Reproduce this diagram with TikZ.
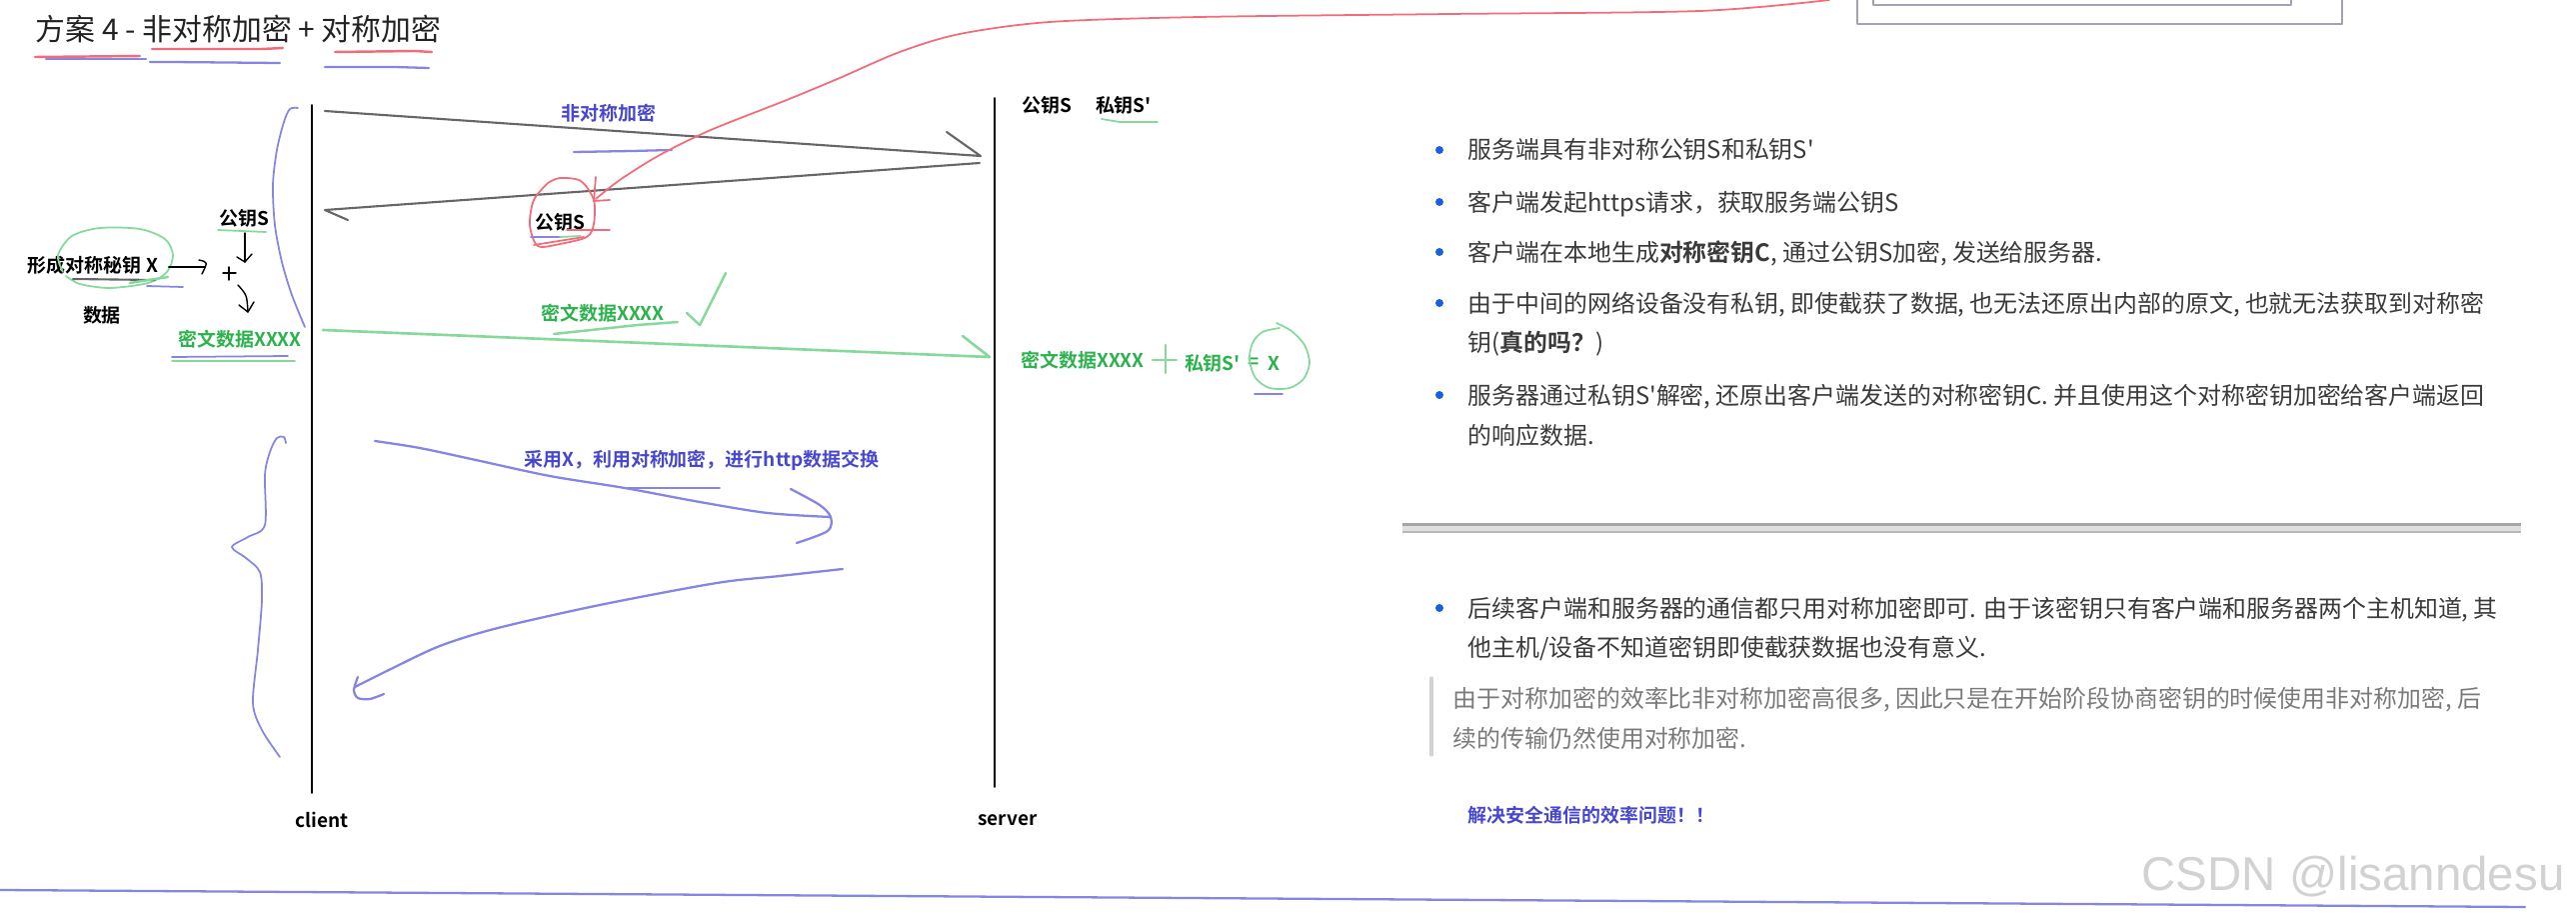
\documentclass[tikz,border=0pt]{standalone}
\usepackage{fontspec}
\setmainfont{Noto Sans CJK SC}[BoldFont={Noto Sans CJK SC Bold}, Ligatures=TeXOff]
\newfontfamily\markfont{Liberation Sans}
\definecolor{titlegray}{HTML}{222222}
\definecolor{bodygray}{HTML}{3A3A3A}
\definecolor{quotegray}{HTML}{7A7A7A}
\definecolor{pengray}{HTML}{666666}
\definecolor{penblue}{HTML}{8585E4}
\definecolor{pengreen}{HTML}{86D99A}
\definecolor{penred}{HTML}{F26B78}
\definecolor{labelblue}{HTML}{4646D0}
\definecolor{labelgreen}{HTML}{2BB24C}
\definecolor{dotblue}{HTML}{1A5FE0}
\definecolor{framegray}{HTML}{A2A2B2}
\begin{document}
\begin{tikzpicture}[x=0.01cm, y=-0.01cm, line cap=round, line join=round,
    lbl/.style={inner sep=0, font=\bfseries\fontsize{5.4}{6.5}\selectfont},
    greenlbl/.style={lbl, text=labelgreen},
    bluelbl/.style={lbl, text=labelblue},
    bodytext/.style={anchor=base west, inner sep=0, text=bodygray, font=\fontsize{6.8}{8}\selectfont},
    quotetext/.style={bodytext, text=quotegray},
    bluepen/.style={draw=penblue, line width=0.65pt},
    greenpen/.style={draw=pengreen, line width=0.7pt},
    redpen/.style={draw=penred, line width=0.5pt},
    graypen/.style={draw=pengray, line width=0.6pt},
    blackpen/.style={draw=black, line width=0.4pt}]
    \useasboundingbox (0,0) rectangle (2577,918);

    % Tiêu đề
    \node[anchor=base west, inner sep=0, text=titlegray, font=\fontsize{8.5}{10}\selectfont] (title) at (35,41) {方案 4 - 非对称加密 + 对称加密};
    \draw[redpen, line width=0.7pt] (35,57) -- (140,56);
    \draw[bluepen] (46,59) -- (146,59);
    \draw[redpen, line width=0.7pt] (152,49) -- (262,49) -- (283,48);
    \draw[bluepen] (150,62) -- (172,62) -- (280,63);
    \draw[redpen, line width=0.7pt] (335,52) -- (415,51) -- (432,52);
    \draw[bluepen] (325,67) -- (395,67) -- (429,68);

    % Hai đường đời client / server
    \coordinate (clienttop) at (312,105);
    \coordinate (clientbot) at (312,793);
    \coordinate (servertop) at (995,98);
    \coordinate (serverbot) at (995,787);
    \draw[line width=0.55pt] (clienttop) -- (clientbot);
    \draw[line width=0.55pt] (servertop) -- (serverbot);
    \node[lbl] (client) at (322,820) {client};
    \node[lbl] (server) at (1008,820) {server};

    % Phía client: tạo khóa X
    \node[lbl] (keyX) at (93,265) {形成对称秘钥 X};
    \node[lbl] (data) at (102,315) {数据};
    \node[lbl] (pubL) at (244,218) {公钥S};
    \node[greenlbl] (cipherL) at (240,339) {密文数据XXXX};
    \draw[greenpen, line width=0.5pt] plot[smooth] coordinates {(63,272) (58,255) (72,236) (100,228) (140,229) (165,239) (173,255) (167,272) (148,283) (110,288) (80,284) (66,276)};
    \draw[draw=pengray, line width=0.6pt] (73,279) -- (155,280);
    \draw[greenpen] (130,283) -- (168,277);
    \draw[bluepen, line width=0.5pt] (147,286) -- (183,287);
    \draw[greenpen, line width=0.5pt] (218,230) -- (266,232);
    \draw[bluepen, line width=0.5pt] (172,357) -- (288,356);
    \draw[greenpen, line width=0.5pt] (172,361) -- (295,361);
    % các mũi tên nhỏ
    \draw[blackpen] (keyX.east) ++(10,2) -- (205,267);
    \draw[blackpen] (199,260) .. controls (208,262) .. (202,274);
    \draw[blackpen] (223,273) -- (236,273);
    \draw[blackpen] (229,267) -- (229,280);
    \draw[blackpen] (245,233) -- (245,262);
    \draw[blackpen] (237,257) -- (245,262) -- (252,254);
    \draw[blackpen] (238,285) .. controls (247,295) .. (248,312);
    \draw[blackpen] (239,305) -- (248,312) -- (254,302);

    % Ngoặc xanh bên trái
    \draw[bluepen, line width=0.5pt] plot[smooth] coordinates {(298,108) (290,109) (284,122) (277,150) (273,185) (275,225) (282,262) (292,295) (305,327)};
    \draw[bluepen, line width=0.5pt] plot[smooth] coordinates {(286,443) (284,437) (277,438) (270,452) (265,475) (265,525) (248,537) (232,547) (246,558) (260,572) (262,600) (258,650) (253,703) (262,730) (280,757)};

    % Mã hóa bất đối xứng: client -> server
    \coordinate (reqA) at (325,111);
    \coordinate (reqB) at (981,156);
    \draw[graypen] (reqA) -- (reqB) -- ++(-34,-24);
    \node[bluelbl] (asymLbl) at (609,113) {非对称加密};
    \draw[bluepen] (574,152) -- (632,151) -- (672,150);

    % Server trả về công khai S
    \coordinate (resA) at (980,163);
    \coordinate (resB) at (325,210);
    \draw[graypen] (resA) -- (resB) -- ++(23,10);
    \node[lbl] (pubMid) at (560,222) {公钥S};
    \draw[redpen] plot[smooth] coordinates {(548,183) (560,178) (581,181) (594,200) (594,224) (587,237) (560,244) (538,246) (530,225) (534,200) (548,183)};
    \draw[redpen] (534,245) -- (584,237);
    \draw[redpen] (567,230) -- (610,230);
    \draw[bluepen, line width=0.5pt] (531,237) -- (560,237);
    \draw[greenpen, line width=0.5pt] (560,237) -- (581,236);
    % đường đỏ dài
    \coordinate (redTip) at (596,199);
    \coordinate (redEnd) at (1830,0);
    \draw[redpen] plot[smooth] coordinates {(redTip) (620,180) (660,155) (711,130) (787,100) (840,78) (900,52) (960,34) (1050,22) (1200,17) (1450,14) (1700,11) (redEnd)};
    \draw[redpen] (596,177) -- (594,201) -- (610,200);

    % Gửi dữ liệu mã hóa
    \coordinate (encA) at (323,330);
    \coordinate (encB) at (990,357);
    \draw[greenpen, line width=0.75pt] (encA) -- (encB) -- ++(-27,-21);
    \node[greenlbl] (cipherMid) at (603,313) {密文数据XXXX};
    \draw[greenpen] (554,334) -- (638,325) -- (678,322);
    \draw[greenpen] (687,313) -- (700,325) -- (726,273);

    % Phía server
    \node[lbl] (pubR) at (1047,105) {公钥S};
    \node[lbl] (privR) at (1124,105) {私钥S'};
    \draw[greenpen, line width=0.5pt] (1102,119) -- (1120,122) -- (1158,122);
    \node[greenlbl] (cipherR) at (1083,360) {密文数据XXXX};
    \draw[greenpen] (1153,360) -- (1177,360);
    \draw[greenpen] (1166,345) -- (1166,373);
    \node[greenlbl] (privG) at (1213,363) {私钥S'};
    \node[greenlbl] (eqG) at (1254,363) {=};
    \node[greenlbl] (xG) at (1274,363) {X};
    \draw[greenpen, line width=0.5pt] plot[smooth] coordinates {(1277,323) (1292,331) (1305,345) (1310,363) (1304,379) (1290,388) (1270,388) (1256,378) (1250,360) (1253,343) (1263,332) (1280,328)};
    \draw[bluepen, line width=0.5pt] (1255,394) -- (1283,394);

    % Trao đổi dữ liệu http bằng khóa đối xứng
    \node[bluelbl] (httpLbl) at (702,460) {采用X，利用对称加密，进行http数据交换};
    \draw[bluepen, line width=0.5pt] (628,488) -- (720,488);
    \coordinate (swapA) at (375,441);
    \coordinate (swapB) at (831,517);
    \draw[bluepen] plot[smooth] coordinates {(swapA) (420,448) (476,460) (550,476) (625,488) (700,502) (768,513) (swapB)};
    \draw[bluepen] plot[smooth] coordinates {(791,489) (820,505) (831,517) (828,531) (797,543)};
    \coordinate (backA) at (843,569);
    \coordinate (backB) at (355,687);
    \draw[bluepen] plot[smooth] coordinates {(backA) (780,576) (717,583) (600,605) (498,628) (440,646) (389,670) (backB)};
    \draw[bluepen] plot[smooth] coordinates {(358,677) (354,690) (358,698) (370,699) (384,694)};

    % Phần giải thích bên phải
    \foreach \y in {150,202,252,303,395,608}
        \fill[dotblue] (1440,\y) circle (4);
    \node[bodytext] (t1) at (1468,159) {服务端具有非对称公钥S和私钥S'};
    \node[bodytext] (t2) at (1468,211) {客户端发起https请求，获取服务端公钥S};
    \node[bodytext] (t3) at (1468,261) {客户端在本地生成\textbf{对称密钥C}, 通过公钥S加密, 发送给服务器.};
    \node[bodytext] (t4) at (1468,312) {由于中间的网络设备没有私钥, 即使截获了数据, 也无法还原出内部的原文, 也就无法获取到对称密};
    \node[bodytext] (t4b) at (1468,351) {钥(\textbf{真的吗？})};
    \node[bodytext] (t5) at (1468,404) {服务器通过私钥S'解密, 还原出客户端发送的对称密钥C. 并且使用这个对称密钥加密给客户端返回};
    \node[bodytext] (t5b) at (1468,444) {的响应数据.};
    \fill[gray!70] (1403,523) rectangle (2522,526);
    \fill[gray!25] (1403,526) rectangle (2522,531);
    \fill[gray!55] (1403,531) rectangle (2522,533);
    \node[bodytext] (t6) at (1468,617) {后续客户端和服务器的通信都只用对称加密即可. 由于该密钥只有客户端和服务器两个主机知道, 其};
    \node[bodytext] (t6b) at (1468,656) {他主机/设备不知道密钥即使截获数据也没有意义.};
    \draw[gray!35, line width=0.9pt] (1432,678) -- (1432,755);
    \node[quotetext] (q1) at (1453,707) {由于对称加密的效率比非对称加密高很多, 因此只是在开始阶段协商密钥的时候使用非对称加密, 后};
    \node[quotetext] (q2) at (1453,747) {续的传输仍然使用对称加密.};
    \node[bluelbl, anchor=west] (goal) at (1468,815) {解决安全通信的效率问题！！};

    % Khung cắt ở góc trên phải
    \draw[draw=framegray, line width=0.8pt] (1858,0) -- (1858,24) -- (2343,24) -- (2343,0);
    \draw[draw=framegray, line width=0.8pt] (1874,0) -- (1874,5) -- (2292,5) -- (2292,0);

    % Đường xanh dưới cùng và watermark
    \draw[bluepen] (0,890) -- (2526,907);
    \node[anchor=west, inner sep=0, text=gray!35, font=\markfont\fontsize{13.5}{15}\selectfont] (mark) at (2142,877) {CSDN @lisanndesu};
\end{tikzpicture}
\end{document}
